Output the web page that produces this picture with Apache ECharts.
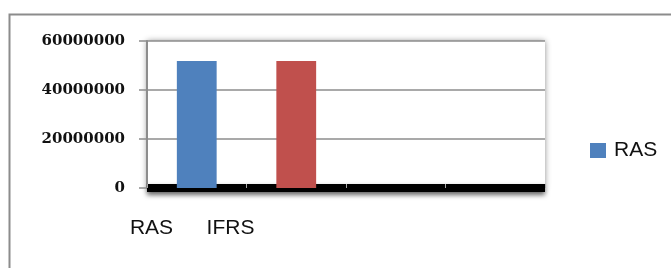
<!DOCTYPE html>
<html>
<head>
<meta charset="utf-8">
<script src="https://cdn.jsdelivr.net/npm/echarts@6/dist/echarts.min.js"></script>
<style>
  html, body { margin: 0; padding: 0; background: #fff; }
  #main { width: 671px; height: 268px; }
</style>
</head>
<body>
<div id="main"></div>
<script>
// data
var categories = ['RAS', 'IFRS', '', ''];
var rasValues = [51800000, 51800000, null, null];
var yTicks = [0, 20000000, 40000000, 60000000];
var seriesName = 'RAS';

var barColors = ['#4f81bd', '#c0504d'];

var myChart = echarts.init(document.getElementById('main'));

var barData = [];
for (var i = 0; i < rasValues.length; i++) {
    barData.push({
        value: rasValues[i],
        itemStyle: { color: barColors[i] || barColors[0] }
    });
}

var option = {
    animation: false,
    backgroundColor: '#fff',
    graphic: [
        {
            // outer chart frame
            type: 'rect',
            left: 7, top: 12,
            shape: { width: 700, height: 300 },
            style: { fill: 'none', stroke: '#8c8c8c', lineWidth: 2 },
            z: -1
        }
    ],
    legend: {
        data: [seriesName],
        left: 585,
        top: 135,
        icon: 'rect',
        itemWidth: 16,
        itemHeight: 15,
        textStyle: {
            fontFamily: 'Liberation Sans Narrow, Liberation Sans, sans-serif',
            fontSize: 21,
            color: '#111',
            padding: [0, 0, 0, 3]
        }
    },
    grid: [
        {
            left: 147, right: 126, top: 41, bottom: 80,
            show: true,
            borderWidth: 0,
            backgroundColor: '#fff',
            shadowColor: 'rgba(0,0,0,0.45)',
            shadowBlur: 6
        },
        {
            // label strip, the labels sit left of the bars like in the picture
            left: 112, width: 316, top: 41, bottom: 80
        }
    ],
    xAxis: [
        {
            type: 'category',
            gridIndex: 0,
            data: categories,
            offset: 4,
            axisLine: {
                show: true,
                lineStyle: {
                    color: '#000', width: 8, cap: 'butt',
                    shadowColor: 'rgba(0,0,0,0.6)', shadowBlur: 5, shadowOffsetY: 3
                }
            },
            axisTick: {
                show: true, inside: true, length: 4,
                lineStyle: { color: '#aaa', width: 1 }
            },
            axisLabel: { show: false },
            splitLine: { show: false }
        },
        {
            type: 'category',
            gridIndex: 1,
            data: categories,
            axisLine: { show: false },
            axisTick: { show: false },
            axisLabel: {
                margin: 30,
                fontFamily: 'Liberation Sans Narrow, Liberation Sans, sans-serif',
                fontSize: 21,
                color: '#111'
            }
        }
    ],
    yAxis: [
        {
            type: 'value',
            gridIndex: 0,
            min: yTicks[0],
            max: yTicks[yTicks.length - 1],
            interval: yTicks[1] - yTicks[0],
            axisLine: { show: true, lineStyle: { color: '#8c8c8c', width: 2 } },
            axisTick: { show: true, length: 8, lineStyle: { color: '#8c8c8c', width: 1.5 } },
            axisLabel: {
                margin: 22,
                formatter: function (v) { return String(v); },
                fontFamily: 'DejaVu Serif, serif',
                fontWeight: 'bold',
                fontSize: 15,
                color: '#111'
            },
            splitLine: { show: true, lineStyle: { color: '#8c8c8c', width: 1.5 } }
        },
        {
            type: 'value',
            gridIndex: 1,
            show: false
        }
    ],
    series: [
        {
            name: seriesName,
            type: 'bar',
            xAxisIndex: 0,
            yAxisIndex: 0,
            barWidth: '40%',
            itemStyle: { color: barColors[0] },
            data: barData
        }
    ]
};

myChart.setOption(option);
</script>
</body>
</html>
